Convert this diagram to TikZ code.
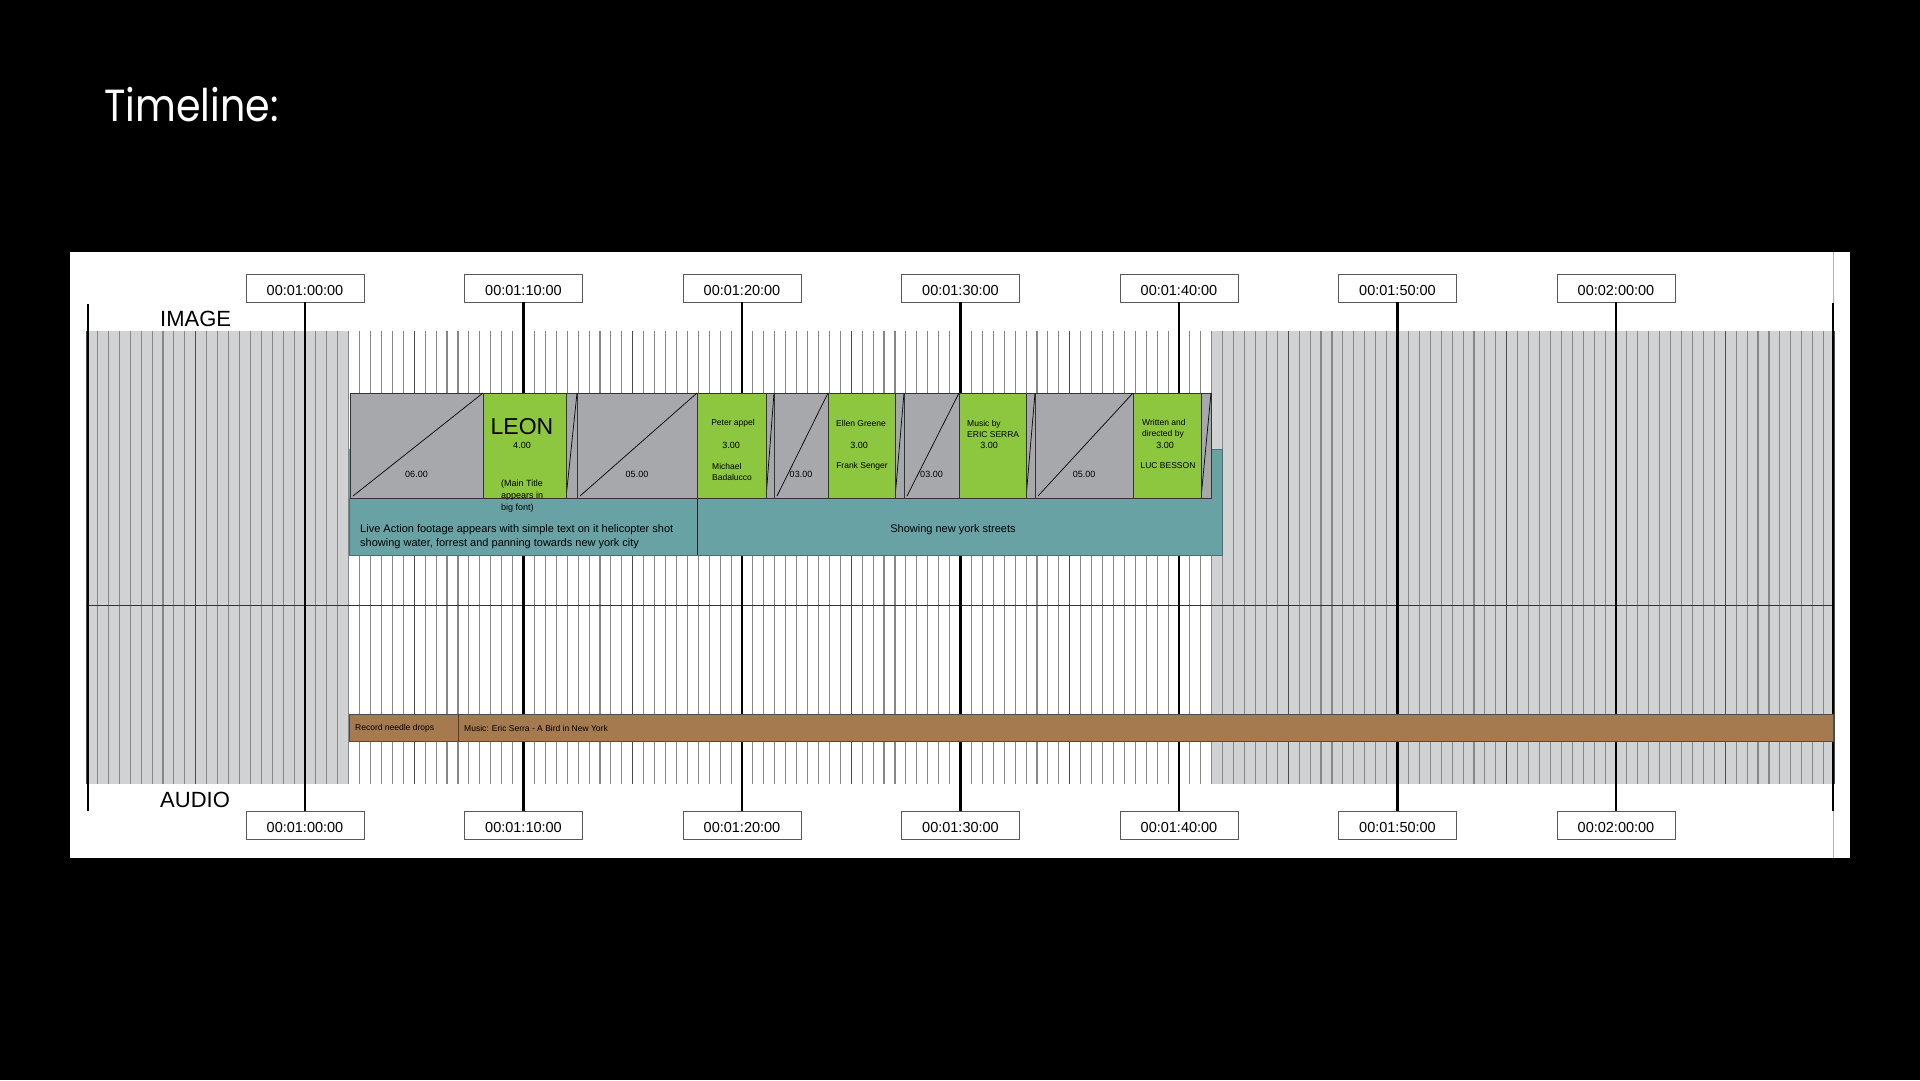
\documentclass[tikz,border=0pt]{standalone}
\usepackage{fontspec}
\setmainfont{Liberation Sans}
\newfontfamily\titlefont[FakeStretch=0.88]{Poppins}
\definecolor{tlgrey}{RGB}{209,210,212}
\definecolor{clipgrey}{RGB}{167,168,171}
\definecolor{cardgreen}{RGB}{141,198,63}
\definecolor{liveteal}{RGB}{104,162,164}
\definecolor{audiobrown}{RGB}{166,122,79}
\definecolor{tickgrey}{RGB}{135,135,135}

\begin{document}
\begin{tikzpicture}[x=1pt,y=-1pt,
    tcbox/.style={draw=black!65, fill=white, line width=0.9pt, minimum width=118pt, minimum height=28pt, inner sep=0pt, text height=14pt, text depth=0pt, font=\fontsize{14.5}{16}\selectfont},
    fadebox/.style={draw=black!80, fill=clipgrey, line width=0.8pt, inner sep=0pt, outer sep=0pt, anchor=north west, minimum height=105pt},
    cardbox/.style={fadebox, fill=cardgreen},
    cardtext/.style={font=\fontsize{8.5}{11}\selectfont, inner sep=0pt},
    tick/.style={draw=tickgrey, line width=1.1pt}]

    % Background
    \fill[black] (0,0) rectangle (1920,1080);
    \useasboundingbox (0,0) rectangle (1920,1080);
    \node[font=\titlefont\fontsize{45}{50}\selectfont, text=white, anchor=base west, inner sep=0pt] (title) at (104,121) {Timeline:};

    % Panel
    \fill[white] (70,252) rectangle (1850,858);
    \draw[gray!60, line width=0.6pt] (1833,252) -- (1833,858);
    \fill[tlgrey] (88,331) rectangle (349,784);
    \fill[tlgrey] (1212,331) rectangle (1833,784);

    % Ticks every half second, darker every five
    \foreach \k in {0,...,160}
        \draw[tick] (86.5+\k*10.925,331) -- (86.5+\k*10.925,784);
    \foreach \k in {0,10,...,160}
        \draw[tick, draw=black!70, line width=1.4pt] (86.5+\k*10.925,331) -- (86.5+\k*10.925,784);
    \draw[black!80, line width=0.9pt] (86,605) -- (1833,605);

    % Outer rules
    \draw[line width=2pt] (88,304) -- (88,811);
    \draw[line width=2.4pt] (1833,303) -- (1833,811);

    % Timecodes
    \foreach \t [count=\i from 0] in {00:01:00:00,00:01:10:00,00:01:20:00,00:01:30:00,00:01:40:00,00:01:50:00,00:02:00:00} {
        \node[tcbox] (tctop\i) at (305+\i*218.5,288) {\t};
        \node[tcbox] (tcbot\i) at (305+\i*218.5,825) {\t};
        \draw[line width=2.4pt] (tctop\i) -- (tcbot\i);
    }

    % Track labels
    \node[font=\fontsize{22}{24}\selectfont, anchor=base west, inner sep=0pt] (imglab) at (160,326) {IMAGE};
    \node[font=\fontsize{22}{24}\selectfont, anchor=base west, inner sep=0pt] (audlab) at (160,807) {AUDIO};

    % Live action footage
    \fill[liveteal] (349,449) rectangle (1222,555);
    \draw[liveteal!70!black, line width=0.7pt] (349,498) -- (349,555) -- (1222,555) -- (1222,449) -- (1211,449);
    \draw[black!85, line width=1pt] (697,498) -- (697,555);
    \node[font=\fontsize{11}{14}\selectfont, anchor=west, align=left, inner sep=0pt] (live1) at (360,537) {Live Action footage appears with simple text on it helicopter shot\\showing water, forrest and panning towards new york city};
    \node[font=\fontsize{11}{14}\selectfont, inner sep=0pt] (live2) at (953,530) {Showing new york streets};

    % Fades
    \foreach \a/\b/\d [count=\i] in {350/483/06.00, 577/697/05.00, 774/828/03.00, 904/959/03.00, 1035/1133/05.00} {
        \node[fadebox, minimum width={(\b-\a)*1pt}] (fade\i) at (\a,393) {};
        \draw[line width=0.7pt] ([shift={(3,-2)}]fade\i.south west) -- (fade\i.north east);
        \node[font=\fontsize{9}{11}\selectfont, inner sep=0pt] (fadelab\i) at ({(\a+\b)/2},474) {\d};
    }
    \foreach \a/\b [count=\i] in {566/577, 766/774, 895/904, 1026/1035, 1201/1211} {
        \node[fadebox, minimum width={(\b-\a)*1pt}] (dis\i) at (\a,393) {};
        \draw[line width=0.7pt] (dis\i.south west) -- (dis\i.north east);
    }

    % Title cards
    \node[cardbox, minimum width=83pt] (leon) at (483,393) {};
    \node[font=\fontsize{23}{26}\selectfont, inner sep=0pt] (leonname) at (522,427) {LEON};
    \node[cardtext, font=\fontsize{9}{11}\selectfont] (leontime) at (522,445) {4.00};
    \node[cardtext, font=\fontsize{9}{12.3}\selectfont, anchor=west, align=left] (leonnote) at (501,496) {(Main Title\\appears in\\big font)};

    \node[cardbox, minimum width=69pt] (peter) at (697,393) {};
    \node[cardtext] (petername) at (733,423) {Peter appel};
    \node[cardtext, font=\fontsize{9}{11}\selectfont] (petertime) at (731,445) {3.00};
    \node[cardtext, anchor=west, align=left] (michael) at (712,471.5) {Michael\\Badalucco};

    \node[cardbox, minimum width=67pt] (ellen) at (828,393) {};
    \node[cardtext] (ellenname) at (861,423) {Ellen Greene};
    \node[cardtext, font=\fontsize{9}{11}\selectfont] (ellentime) at (859,445) {3.00};
    \node[cardtext] (frank) at (862,466) {Frank Senger};

    \node[cardbox, minimum width=67pt] (serra) at (959,393) {};
    \node[cardtext, anchor=west, align=left] (serrarole) at (967,428.5) {Music by\\ERIC SERRA};
    \node[cardtext, font=\fontsize{9}{11}\selectfont] (serratime) at (989,445) {3.00};

    \node[cardbox, minimum width=68pt] (besson) at (1133,393) {};
    \node[cardtext, anchor=west, align=left] (bessonrole) at (1142,428.5) {Written and\\directed by};
    \node[cardtext, font=\fontsize{9}{11}\selectfont] (bessontime) at (1165,445) {3.00};
    \node[cardtext] (bessonname) at (1168,466) {LUC BESSON};

    % Audio track
    \node[draw=black!70, fill=audiobrown, line width=0.7pt, anchor=north west, inner sep=0pt, minimum width=1484pt, minimum height=27pt] (audiotrack) at (349,714) {};
    \draw[black!75, line width=0.8pt] (458,714) -- (458,741);
    \node[font=\fontsize{8.5}{10}\selectfont, anchor=west, inner sep=0pt] (needle) at (355,728) {Record needle drops};
    \node[font=\fontsize{8.5}{10}\selectfont, anchor=west, inner sep=0pt] (song) at (464,728) {Music: Eric Serra - A Bird in New York};
\end{tikzpicture}
\end{document}
